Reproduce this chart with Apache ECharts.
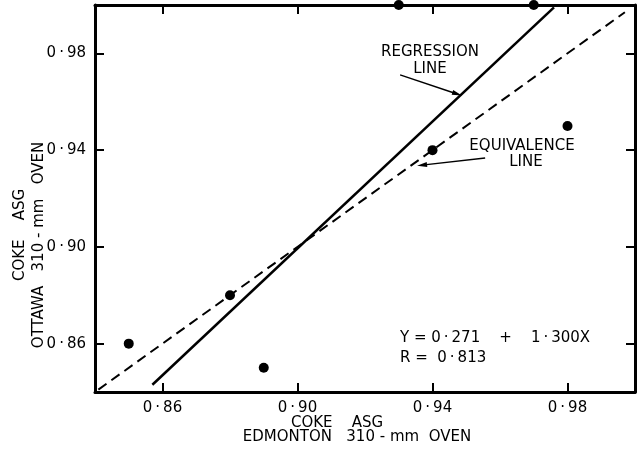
<!DOCTYPE html>
<html>
<head>
<meta charset="utf-8">
<script src="https://cdn.jsdelivr.net/npm/echarts@6/dist/echarts.min.js"></script>
<style>
  html, body { margin: 0; padding: 0; background: #fff; }
  #chart { width: 644px; height: 449px; }
</style>
</head>
<body>
<div id="chart"></div>
<script>
// Tick positions shared by all four sides of the frame
const tickValues = [0.86, 0.90, 0.94, 0.98];

// Coke ASG measured at each oven (one point per sample)
const edmontonASG = [0.85, 0.88, 0.89, 0.93, 0.94, 0.97, 0.98];
const ottawaASG   = [0.86, 0.88, 0.85, 1.00, 0.94, 1.00, 0.95];

// Fitted regression line and the 1:1 equivalence line (end points)
const regressionEnds  = [[0.857, 0.843], [0.976, 0.999]];
const equivalenceEnds = [[0.841, 0.841], [0.997, 0.997]];

// Leader arrows from the annotations to their lines (tail, head)
const regressionArrow  = [[0.9304, 0.9711], [0.9473, 0.9632]];
const equivalenceArrow = [[0.9556, 0.9367], [0.9369, 0.9338]];

const INK = '#000';
const FONT = 'DejaVu Sans';
const fmt = v => v.toFixed(2).replace('.', '\u2009\u00b7\u2009');

const points = edmontonASG.map((x, i) => [x, ottawaASG[i]]);

function frameAxis(position, withLabels) {
  return {
    type: 'value',
    min: 0.84,
    max: 1.00,
    position: position,
    splitLine: { show: false },
    axisLine: { show: true, onZero: false, lineStyle: { color: INK, width: 3 } },
    axisTick: { show: true, inside: true, length: 9, customValues: tickValues,
                lineStyle: { color: INK, width: 2 } },
    axisLabel: { show: withLabels, customValues: tickValues, formatter: fmt,
                 color: INK, fontFamily: FONT, fontSize: 15, margin: 9 }
  };
}

const chart = echarts.init(document.getElementById('chart'), null, { renderer: 'canvas' });

const baseFont = '15px "DejaVu Sans"';
const titleStyle = { fill: INK, font: baseFont, align: 'center', verticalAlign: 'middle' };
const eqStyle    = { fill: INK, font: baseFont, align: 'left', verticalAlign: 'middle' };
const txt = (x, y, text, style, rotation) => ({
  type: 'text', x: x, y: y, rotation: rotation || 0,
  style: Object.assign({ text: text }, style)
});

chart.setOption({
  backgroundColor: '#fff',
  animation: false,
  grid: { left: 95, right: 9, top: 5, bottom: 57, containLabel: false },
  xAxis: [frameAxis('bottom', true), frameAxis('top', false)],
  yAxis: [frameAxis('left', true), frameAxis('right', false)],
  series: [
    {
      type: 'line',
      data: equivalenceEnds,
      showSymbol: false,
      lineStyle: { color: INK, width: 2, type: [10, 6] },
      z: 2
    },
    {
      type: 'line',
      data: regressionEnds,
      showSymbol: false,
      lineStyle: { color: INK, width: 2.5 },
      z: 2
    },
    {
      type: 'scatter',
      data: points,
      symbol: 'circle',
      symbolSize: 10,
      clip: false,
      itemStyle: { color: INK, opacity: 1 },
      z: 4
    },
    {
      type: 'lines',
      coordinateSystem: 'cartesian2d',
      data: [{ coords: regressionArrow }, { coords: equivalenceArrow }],
      symbol: ['none', 'triangle'],
      symbolSize: [0, [5, 10]],
      lineStyle: { color: INK, width: 1.5, opacity: 1, curveness: 0 },
      itemStyle: { color: INK },
      z: 3
    }
  ],
  graphic: [
    // horizontal axis title
    txt(337, 423, 'COKE    ASG', titleStyle),
    txt(357, 437, 'EDMONTON   310 - mm  OVEN', titleStyle),
    // vertical axis title
    txt(20, 235, 'COKE    ASG', titleStyle, Math.PI / 2),
    txt(39, 245, 'OTTAWA   310 - mm   OVEN', titleStyle, Math.PI / 2),
    // line annotations
    txt(430, 52, 'REGRESSION', titleStyle),
    txt(430, 69, 'LINE', titleStyle),
    txt(522, 146, 'EQUIVALENCE', titleStyle),
    txt(526, 162, 'LINE', titleStyle),
    // regression statistics
    txt(400, 338, 'Y = 0\u2009\u00b7\u2009271    +    1\u2009\u00b7\u2009300X', eqStyle),
    txt(400, 358, 'R =  0\u2009\u00b7\u2009813', eqStyle)
  ]
});
</script>
</body>
</html>
